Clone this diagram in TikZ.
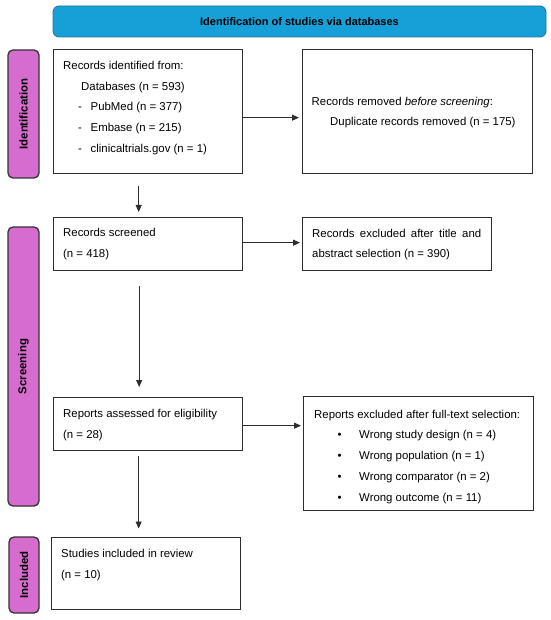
\documentclass[tikz,border=0pt]{standalone}
\usepackage{fontspec}
\setmainfont{Liberation Sans}
\usetikzlibrary{arrows.meta,calc}
\definecolor{hdrblue}{RGB}{22,160,215}
\definecolor{hdredge}{RGB}{30,115,155}
\definecolor{sidepink}{RGB}{214,108,206}
\definecolor{lineg}{RGB}{45,45,45}
\begin{document}
\begin{tikzpicture}[x=1pt,y=-1pt,
  box/.style={draw=lineg, line width=1.3pt, fill=white, inner sep=0pt, anchor=north west},
  txt/.style={anchor=base west, inner sep=0pt, align=left, font=\fontsize{11.4}{20.7}\selectfont},
  arr/.style={draw=lineg, line width=0.9pt, -{Triangle[length=7pt,width=6pt]}},
  side/.style={draw=black!80, line width=1.3pt, fill=sidepink, rounded corners=5pt, rotate=90, inner sep=0pt, font=\bfseries\fontsize{11.4}{13}\selectfont},
  hdr/.style={fill=hdrblue, draw=hdredge, line width=0.8pt, rounded corners=6pt, inner sep=0pt, font=\bfseries\fontsize{11}{13}\selectfont}
]
\useasboundingbox (0,0) rectangle (550,620);
\hyphenpenalty=10000

% header
\node[hdr, minimum width=493pt, minimum height=31pt] (head) at (299.5,21.5) {Identification of studies via databases};

% side bars
\node[side, minimum width=128pt, minimum height=31pt] (sideid) at (23.5,114) {Identification};
\node[side, minimum width=279pt, minimum height=31pt] (sidescr) at (23.5,366.5) {Screening};
\node[side, minimum width=76pt, minimum height=30pt] (sideinc) at (24,575) {Included};

% boxes
\node[box, minimum width=189pt, minimum height=124pt] (b1) at (53,49) {};
\node[box, minimum width=230pt, minimum height=124pt] (b2) at (302,49) {};
\node[box, minimum width=189pt, minimum height=53pt] (scr) at (53,217) {};
\node[box, minimum width=189pt, minimum height=53pt] (ex1) at (302,217) {};
\node[box, minimum width=189pt, minimum height=53pt] (rep) at (53,397) {};
\node[box, minimum width=230pt, minimum height=114pt] (ex2) at (303,396) {};
\node[box, minimum width=189pt, minimum height=72pt] (inc) at (51,537) {};

% texts (multi-line align nodes: base anchor = last line's baseline)
\node[txt] (t1a) at (63,70) {Records identified from:};
\node[txt] (t1b) at (81,91) {Databases (n = 593)};
\node[txt] (t1c) at (78,111) {-\hspace{8.7pt}PubMed (n = 377)};
\node[txt] (t1d) at (78,132) {-\hspace{8.7pt}Embase (n = 215)};
\node[txt] (t1e) at (78,153) {-\hspace{8.7pt}clinicaltrials.gov (n = 1)};

\node[txt] (t2a) at (311.5,106) {Records removed \textit{before screening}:};
\node[txt] (t2b) at (330,126) {Duplicate records removed (n = 175)};

\node[txt] (t3) at (63,257.5) {Records screened\\(n = 418)};
\node[txt, align=justify, text width=169pt] (t4) at (312,237) {Records excluded after title and abstract selection (n = 390)};

\node[txt] (t5) at (63,438.5) {Reports assessed for eligibility\\(n = 28)};
\node[txt] (t6a) at (314,418) {Reports excluded after full-text selection:};
\node[txt] (t6b) at (337.5,501) {\makebox[21.5pt][l]{•}Wrong study design (n = 4)\\
\makebox[21.5pt][l]{•}Wrong population (n = 1)\\
\makebox[21.5pt][l]{•}Wrong comparator (n = 2)\\
\makebox[21.5pt][l]{•}Wrong outcome (n = 11)};

\node[txt] (t7) at (61,578) {Studies included in review\\(n = 10)};

% arrows
\draw[arr, shorten >=3pt] ([yshift=-6pt]b1.east) -- ([yshift=-6pt]b1.east -| b2.west);
\draw[arr, shorten >=2pt] ([yshift=1.5pt]scr.east) -- ([yshift=1.5pt]scr.east -| ex1.west);
\draw[arr, shorten >=2pt] ([yshift=-1.5pt]rep.east) -- ([yshift=-1.5pt]rep.east -| ex2.west);
\draw[arr, shorten <=12pt, shorten >=5pt] ([xshift=-9.5pt]b1.south) -- ([xshift=-9.5pt]b1.south |- scr.north);
\draw[arr, shorten <=15pt, shorten >=10pt] ([xshift=-9pt]scr.south) -- ([xshift=-9pt]scr.south |- rep.north);
\draw[arr, shorten <=5pt, shorten >=8.5pt] ([xshift=-9.5pt]rep.south) -- ([xshift=-9.5pt]rep.south |- inc.north);
\end{tikzpicture}
\end{document}
